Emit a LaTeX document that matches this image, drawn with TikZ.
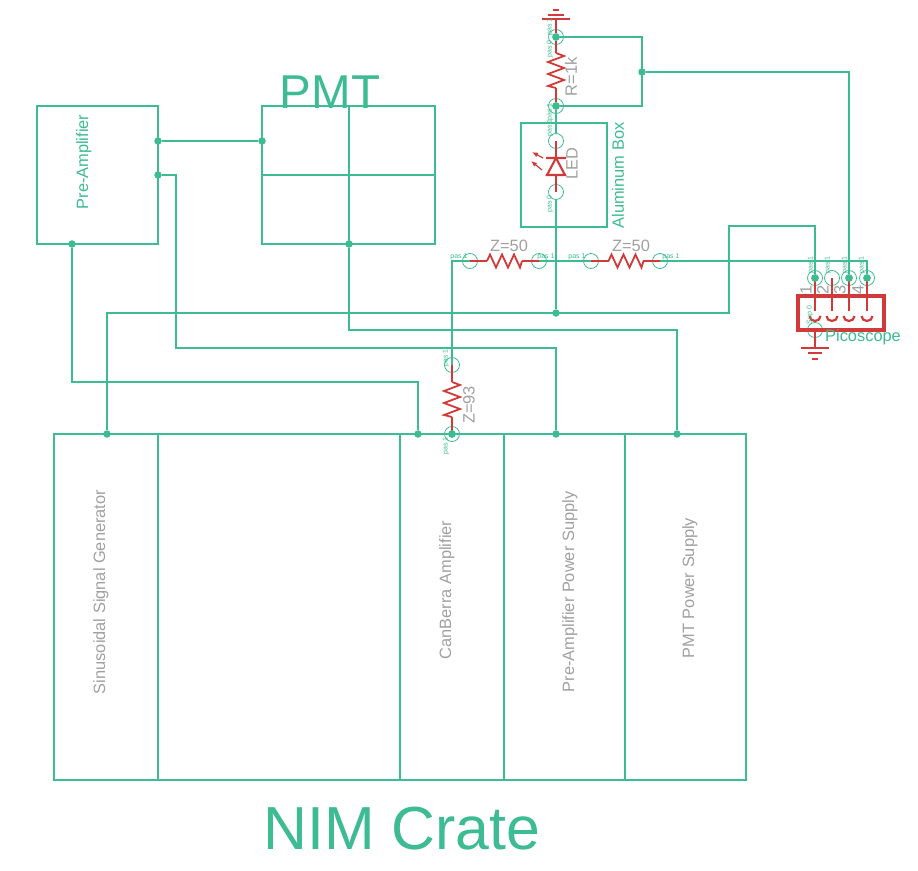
\documentclass[tikz,border=0pt]{standalone}
\usepackage{fontspec}
\setmainfont{Liberation Sans}
\usetikzlibrary{arrows.meta,decorations.pathmorphing}
\definecolor{grn}{HTML}{3DBB92}
\definecolor{rd}{HTML}{D23A3A}
\definecolor{gry}{HTML}{A0A0A0}
\tikzset{
  wire/.style={draw=grn,line width=1.5pt},
  box/.style={draw=grn,line width=1.5pt},
  part/.style={draw=rd,line width=1.9pt},
  zig/.style={draw=rd,line width=1.8pt,line join=miter},
  junct/.style={circle,fill=grn,inner sep=0pt,minimum size=7.5pt},
  pinc/.style={circle,draw=grn,line width=.8pt,inner sep=0pt,minimum size=15pt},
  lbl/.style={text=gry,font=\fontsize{16.4}{16.4}\selectfont,inner sep=0pt},
  glbl/.style={text=grn,font=\fontsize{16.4}{16.4}\selectfont,inner sep=0pt},
  pas/.style={text=grn,font=\fontsize{7}{7}\selectfont,inner sep=0pt},
  big/.style={text=grn,inner sep=0pt},
}
\newcommand{\zigv}[2]{% vertical resistor from #1 to #2 (y values) at x=\zx
  \draw[zig] (\zx,#1) -- ++(8,3) -- ++(-16,6) -- ++(16,6) -- ++(-16,6) -- ++(16,6) -- ++(-16,6) -- ++(8,2);}
\newcommand{\zigh}[1]{% horizontal resistor at y=261 beginning at x=#1
  \draw[zig] (#1,261) -- ++(3,-6.5) -- ++(6,13) -- ++(6,-13) -- ++(6,13) -- ++(6,-13) -- ++(6,13) -- ++(2,-6.5);}
\begin{document}
\begin{tikzpicture}[x=1pt,y=-1pt]
\useasboundingbox (0,0) rectangle (918,870);
% boxes
\draw[box] (37,106) rectangle (158,244);
\draw[box] (262,106) rectangle (435,244);
\draw[box] (349,106) -- (349,244) (262,175) -- (435,175);
\draw[box] (54,434) rectangle (746,780);
\foreach \x in {158,400,504,625} \draw[box] (\x,434) -- (\x,780);
\draw[box] (521,123) rectangle (607,227);
% junctions
\node[junct] (pa1) at (158,141) {};
\node[junct] (pa2) at (158,175) {};
\node[junct] (pa3) at (72,244) {};
\node[junct] (pm1) at (262,141) {};
\node[junct] (pm2) at (349,244) {};
\node[junct] (n1) at (107,434) {};
\node[junct] (n2) at (418,434) {};
\node[junct] (n3) at (452,434) {};
\node[junct] (n4) at (556,434) {};
\node[junct] (n5) at (677,434) {};
\node[junct] (sg) at (556,313) {};
\node[junct] (rt) at (556,37) {};
\node[junct] (rb) at (556,106) {};
\node[junct] (lp) at (642,72) {};
\node[junct] (c1) at (815,278) {};
\node[junct] (c3) at (849,278) {};
\node[junct] (c4) at (867,278) {};
% pin circles
\node[pinc] (cA) at (556,141) {};
\node[pinc] (cB) at (556,192) {};
\node[pinc] (ct) at (556,37) {};
\node[pinc] (cb) at (556,106) {};
\node[pinc] (z1a) at (470,261) {};
\node[pinc] (z1b) at (539,261) {};
\node[pinc] (z2a) at (591,261) {};
\node[pinc] (z2b) at (660,261) {};
\node[pinc] (z3a) at (452,365) {};
\node[pinc] (z3b) at (452,434) {};
\node[pinc] (p1) at (815,278) {};
\node[pinc] (p2) at (832,278) {};
\node[pinc] (p3) at (849,278) {};
\node[pinc] (p4) at (867,278) {};
\node[pinc] (pg) at (815,330) {};
% wires
\draw[wire] (pa1) -- (pm1);
\draw[wire] (pa2) -- (176,175) -- (176,348) -- (556,348) -- (n4);
\draw[wire] (pa3) -- (72,382) -- (418,382) -- (n2);
\draw[wire] (pm2) -- (349,330) -- (677,330) -- (n5);
\draw[wire] (n1) -- (107,313) -- (729,313) -- (729,226) -- (815,226) -- (c1);
\draw[wire] (rt) -- (642,37) -- (642,106) -- (rb);
\draw[wire] (lp) -- (849,72) -- (c3);
\draw[wire] (rb) -- (cA);
\draw[wire] (cB) -- (sg);
\draw[wire] (z1a.center) -- (452,261) -- (z3a.center);
\draw[wire] (z3b) -- (n3);
\draw[wire] (z1b.center) -- (z2a.center);
\draw[wire] (z2b.center) -- (867,261) -- (c4);
% red parts
\draw[part] (rt) -- (556,19);
\draw[part] (542,19) -- (570,19) (548,15) -- (564,15) (553,10) -- (559,10);
\draw[part] (rt) -- (556,53) (556,88) -- (rb);
\def\zx{556}\zigv{53}{88}
\draw[part] (cA.center) -- (556,158) (556,175) -- (cB.center);
\draw[rd,line width=2.1pt] (546,158) -- (566,158) (556,158) -- (547,175) -- (565,175) -- cycle;
\draw[rd,line width=1.2pt,-{Latex[length=6pt,width=5pt]}] (543,158) -- (532,152);
\draw[rd,line width=1.2pt,-{Latex[length=6pt,width=5pt]}] (542,170) -- (531,161);
\draw[part] (z1a.center) -- (487,261) (522,261) -- (z1b.center);
\zigh{487}
\draw[part] (z2a.center) -- (609,261) (643,261) -- (z2b.center);
\zigh{608.5}
\draw[part] (z3a.center) -- (452,382) (452,417) -- (z3b.center);
\def\zx{452}\zigv{382}{417}
% picoscope
\draw[rd,line width=3.2pt] (798,296) rectangle (884,330);
\foreach \x in {815,832,849,867} {
  \draw[part] (\x,278) -- (\x,311);
  \draw[part,line width=2.2pt] (\x-5.5,316) arc (180:0:5.5 and 5);
}
\draw[part] (pg.center) -- (815,348);
\draw[part,line width=2.2pt] (801,348) -- (829,348) (808,353) -- (822,353) (812,359) -- (818,359);
% junction dots stay above the red parts
\foreach \j in {rt,rb,n3,c1,c3,c4} \fill[grn] (\j) circle (3.75);
% texts
\node[big,font=\fontsize{47.5}{47.5}\selectfont] (tpmt) at (330,92) {PMT};
\node[big,font=\fontsize{60.8}{60.8}\selectfont] (tnim) at (402,829) {NIM Crate};
\node[glbl,rotate=90] (tpre) at (84,162) {Pre-Amplifier};
\node[glbl,rotate=90] (tal) at (618,175.5) {Aluminum Box};
\node[glbl,anchor=west] (tpico) at (825,337) {Picoscope};
\node[lbl,rotate=90] (t1) at (101,592) {Sinusoidal Signal Generator};
\node[lbl,rotate=90] (t2) at (447,590) {CanBerra Amplifier};
\node[lbl,rotate=90] (t3) at (570,592) {Pre-Amplifier Power Supply};
\node[lbl,rotate=90] (t4) at (690,588) {PMT Power Supply};
\node[lbl,rotate=90] (tled) at (572,164) {LED};
\node[lbl,rotate=90] (tr) at (571,77) {R=1k};
\node[lbl] (tz1) at (509,246) {Z=50};
\node[lbl] (tz2) at (631,246) {Z=50};
\node[lbl,rotate=90] (tz3) at (469,405) {Z=93};
\node[lbl,rotate=90] (d1) at (806,290) {1};
\node[lbl,rotate=90] (d2) at (823,290) {2};
\node[lbl,rotate=90] (d3) at (840,290) {3};
\node[lbl,rotate=90] (d4) at (858,290) {4};
% pin labels
\foreach \p/\q in {459/257,546/257,577/257,671/257} \node[pas] at (\p,\q) {pas 1};
\foreach \p/\q/\t in {550/27/pas 1,550/49/pas 0,550/112/pas 1,550/128/pas 1,550/204/pas 0,446/358/pas 1,446/446/pas 1,811/265/pas 1,828/265/pas 1,845/265/pas 1,862/265/pas 1,810/315/Sup 0}
  \node[pas,rotate=90] at (\p,\q) {\t};
\end{tikzpicture}
\end{document}
